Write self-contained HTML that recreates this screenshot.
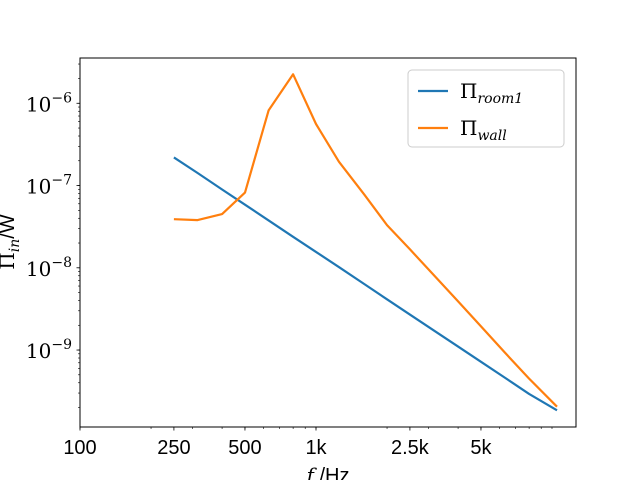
<!DOCTYPE html>
<html><head><meta charset="utf-8"><style>body{margin:0;background:#fff}svg{display:block}</style></head>
<body>
<svg id="chart" width="640" height="480" xmlns="http://www.w3.org/2000/svg"></svg>
<script>
const freqs=[250,315,400,500,630,800,1000,1250,1600,2000,2500,3150,4000,5000,6300,8000,10500];
const room1=[2.2e-7,1.42e-7,8.96e-8,5.85e-8,3.77e-8,2.38e-8,1.56e-8,1.02e-8,6.35e-9,4.14e-9,2.7e-9,1.74e-9,1.1e-9,7.2e-10,4.63e-10,2.93e-10,1.85e-10];
const wall=[3.9e-8,3.8e-8,4.5e-8,8.2e-8,8.2e-7,2.25e-6,5.6e-7,1.95e-7,7.8e-8,3.3e-8,1.68e-8,8.2e-9,3.9e-9,1.94e-9,9.4e-10,4.5e-10,2.05e-10];
const xTicks=[100,250,500,1000,2500,5000];
const xTickLabels=["100","250","500","1k","2.5k","5k"];
const yTicks=[-9,-8,-7,-6];

const L=80,R=576,T=58,B=427;
const xmin=2,xmax=2+(R-L)/236;
const ymin=-9-(B-350)/82.3,ymax=-6+(103.3-T)/82.3;
const X=f=>L+(Math.log10(f)-xmin)/(xmax-xmin)*(R-L);
const Y=v=>B-(Math.log10(v)-ymin)/(ymax-ymin)*(B-T);
const NS="http://www.w3.org/2000/svg";
const svg=document.getElementById('chart');
function mk(t,a,p){const e=document.createElementNS(NS,t);for(const k in a)e.setAttribute(k,a[k]);(p||svg).appendChild(e);return e;}

for(let d=2;d<=4;d++)for(let m=1;m<10;m++){const f=m*Math.pow(10,d);const lx=Math.log10(f);if(lx<xmin||lx>xmax)continue;
 const e=mk('line',{x1:X(f),x2:X(f),y1:B,y2:B+2,stroke:'#000','stroke-width':0.6});
 
 }
for(let d=-10;d<=-6;d++)for(let m=1;m<10;m++){const v=m*Math.pow(10,d);const lv=Math.log10(v);if(lv<ymin||lv>ymax)continue;
 const e=mk('line',{x1:L-2,x2:L,y1:Y(v),y2:Y(v),stroke:'#000','stroke-width':0.6});
 
 }
xTicks.forEach((f,i)=>{
 const t=mk('line',{x1:X(f),x2:X(f),y1:B,y2:B+3.5,stroke:'#000','stroke-width':0.8});
 
 
 const tx=mk('text',{x:X(f),y:B+27,'text-anchor':'middle','font-family':'Liberation Sans, sans-serif','font-size':20});
 tx.textContent=xTickLabels[i];
 
 
});
yTicks.forEach(p=>{
 const v=Math.pow(10,p);
 const t=mk('line',{x1:L-3.5,x2:L,y1:Y(v),y2:Y(v),stroke:'#000','stroke-width':0.8});
 
 
 const tx=mk('text',{x:L-8,y:Y(v)+8,'text-anchor':'end','font-family':'DejaVu Serif, Liberation Serif, serif','font-size':20});
 tx.innerHTML='10<tspan dy="-9" font-size="14">−'+(-p)+'</tspan>';
 
 
});
function series(vals,color,name){
 const pts=freqs.map((f,i)=>X(f).toFixed(1)+','+Y(vals[i]).toFixed(1)).join(' ');
 const p=mk('polyline',{points:pts,fill:'none',stroke:color,'stroke-width':2.2,'stroke-linejoin':'round'});
 
 
}
series(room1,'#1f77b4','room1-line');
series(wall,'#ff7f0e','wall-line');
const fr=mk('rect',{x:L,y:T,width:R-L,height:B-T,fill:'none',stroke:'#000','stroke-width':1});


const xl=mk('text',{x:328,y:482,'text-anchor':'middle','font-family':'Liberation Sans, sans-serif','font-size':20});
xl.innerHTML='<tspan font-style="italic" font-family="DejaVu Serif, serif">f</tspan> /Hz';


const yl=mk('text',{x:0,y:0,'text-anchor':'middle','font-family':'Liberation Sans, sans-serif','font-size':20,transform:'translate(14,242) rotate(-90)'});
yl.innerHTML='<tspan font-family="DejaVu Serif, serif">Π</tspan><tspan dy="5" font-size="14" font-style="italic" font-family="DejaVu Serif, serif">in</tspan><tspan dy="-5">/W</tspan>';


const lg=mk('g',{});


mk('rect',{x:408,y:70,width:156,height:77,rx:4,fill:'#fff','fill-opacity':0.8,stroke:'#ccc','stroke-width':1},lg);
[['#1f77b4','room1',91,'legend-entry-room1'],['#ff7f0e','wall',128,'legend-entry-wall']].forEach(([c,s,yy,n])=>{
 const g=mk('g',{},lg);
 
 
 mk('line',{x1:418,x2:448,y1:yy,y2:yy,stroke:c,'stroke-width':2.2},g);
 const t=mk('text',{x:460,y:yy+7,'font-family':'DejaVu Serif, serif','font-size':20},g);
 t.innerHTML='Π<tspan dy="5" font-size="14" font-style="italic">'+s+'</tspan>';
});
</script>
</body></html>
